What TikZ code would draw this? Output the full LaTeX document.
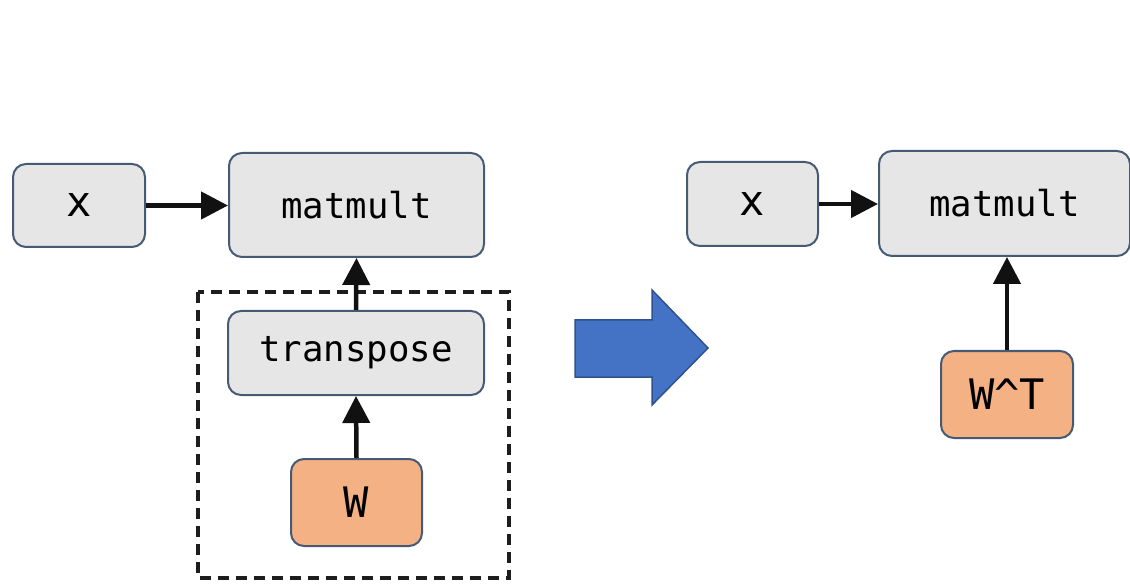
\documentclass[tikz,border=0pt]{standalone}
\usepackage{fontspec}
\setmonofont{DejaVu Sans Mono}
\usetikzlibrary{arrows.meta}
\definecolor{opgray}{HTML}{E6E6E6}
\definecolor{opedge}{HTML}{475A75}
\definecolor{weight}{HTML}{F4B183}
\definecolor{bigblue}{HTML}{4472C4}
\definecolor{bigblueedge}{HTML}{2F528F}
\definecolor{ink}{HTML}{111111}
\begin{document}
\begin{tikzpicture}[x=1pt,y=-1pt,
  box/.style={draw=opedge, line width=2pt, rounded corners=13pt,
    inner sep=0pt, font=\ttfamily\fontsize{35.7}{40}\selectfont},
  opbox/.style={box, fill=opgray},
  varbox/.style={box, fill=opgray, font=\ttfamily\fontsize{42}{46}\selectfont},
  wbox/.style={box, fill=weight, font=\ttfamily\fontsize{42}{46}\selectfont},
  flow/.style={draw=ink, line width=4.5pt, -{Triangle[length=27pt,width=27pt]}},
  group/.style={draw=ink!95, line width=3.5pt, dash pattern=on 11pt off 7pt}
]
\useasboundingbox (0,0) rectangle (1130,585);

% graph before the rewrite
\node[varbox, minimum width=132pt, minimum height=83pt] (x1) at (79,205.5) {x};
\node[opbox, minimum width=255pt, minimum height=104pt] (mm1) at (356.5,205) {matmult};
\node[opbox, minimum width=256pt, minimum height=84pt] (tr) at (356,353) {transpose};
\node[wbox, minimum width=131pt, minimum height=87pt] (w) at (356.5,502.5) {W};
\draw[group] (198,292) rectangle (509,578);

\draw[flow] (x1.east) -- (x1.east -| mm1.west);
\draw[flow] (w.north) -- (tr.south);
\draw[flow] (tr.north) -- (mm1.south);

% rewrite arrow
\draw[draw=bigblueedge, fill=bigblue, line width=1.5pt, line join=miter]
  (575,320) -- (652,320) -- (652,290) -- (708,348) -- (652,405)
  -- (652,377) -- (575,377) -- cycle;

% graph after the rewrite
\node[varbox, minimum width=131pt, minimum height=84pt] (x2) at (752.5,204) {x};
\node[opbox, minimum width=251pt, minimum height=105pt] (mm2) at (1004.5,203.5) {matmult};
\node[wbox, minimum width=132pt, minimum height=87pt] (wt) at (1007,394.5) {W\^{}T};

\draw[flow] (x2.east) -- (x2.east -| mm2.west);
\draw[flow] (wt.north) -- (wt.north |- mm2.south);
\end{tikzpicture}
\end{document}
